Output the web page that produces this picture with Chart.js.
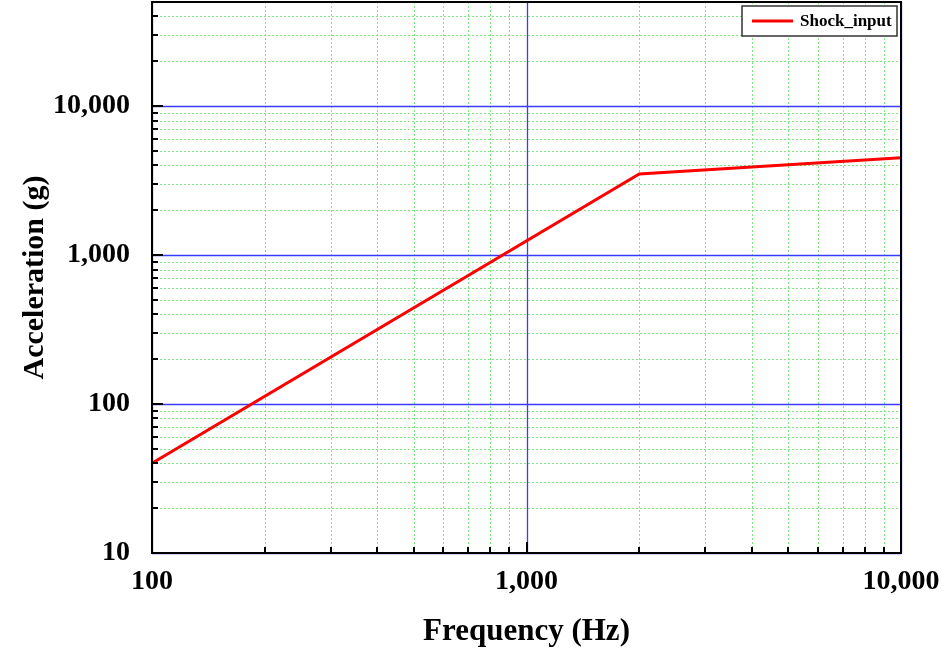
<!DOCTYPE html>
<html>
<head>
<meta charset="utf-8">
<script src="https://cdn.jsdelivr.net/npm/chart.js@4/dist/chart.umd.min.js"></script>
<style>
  html, body { margin: 0; padding: 0; background: #fff; }
  #wrap { width: 947px; height: 652px; }
</style>
</head>
<body>
<div id="wrap"><canvas id="shock-chart" width="947" height="652"></canvas></div>
<script>
// data
var freqHz = [100, 2000, 10000];
var accelG = [40, 3500, 4500];
var xTicks = [100, 1000, 10000];
var yTicks = [10, 100, 1000, 10000];
var seriesName = "Shock_input";

var serif = "'Liberation Serif', 'Times New Roman', serif";

function fmt(v) { return Number(v).toLocaleString('en-US'); }

// every 1..9 * 10^k between min and max
function logSteps(min, max) {
  var out = [];
  for (var p = Math.pow(10, Math.floor(Math.log10(min))); p <= max; p *= 10) {
    for (var m = 1; m < 10; m++) {
      var v = m * p;
      if (v >= min && v <= max) out.push({ v: v, major: m === 1 });
    }
  }
  return out;
}

/*grid, inward ticks, frame and legend*/
var framePlugin = {
  id: 'frame',
  beforeDatasetsDraw: function (chart) {
    var ctx = chart.ctx, a = chart.chartArea;
    var xs = chart.scales.x, ys = chart.scales.y;
    ctx.save();
    ctx.lineWidth = 1;
    // minor lines
    ctx.strokeStyle = '#7ee87e';
    ctx.setLineDash([2, 2]);
    logSteps(xs.min, xs.max).forEach(function (t) {
      if (t.major) return;
      var px = Math.round(xs.getPixelForValue(t.v)) + 0.5;
      ctx.beginPath(); ctx.moveTo(px, a.top); ctx.lineTo(px, a.bottom); ctx.stroke();
    });
    logSteps(ys.min, ys.max).forEach(function (t) {
      if (t.major) return;
      var py = Math.round(ys.getPixelForValue(t.v)) + 0.5;
      ctx.beginPath(); ctx.moveTo(a.left, py); ctx.lineTo(a.right, py); ctx.stroke();
    });
    // major lines
    ctx.setLineDash([]);
    ctx.strokeStyle = '#3b3bff';
    ctx.lineWidth = 1.3;
    logSteps(xs.min, xs.max).forEach(function (t) {
      if (!t.major) return;
      var px = Math.round(xs.getPixelForValue(t.v)) + 0.5;
      ctx.beginPath(); ctx.moveTo(px, a.top); ctx.lineTo(px, a.bottom); ctx.stroke();
    });
    logSteps(ys.min, ys.max).forEach(function (t) {
      if (!t.major) return;
      var py = Math.round(ys.getPixelForValue(t.v)) + 0.5;
      ctx.beginPath(); ctx.moveTo(a.left, py); ctx.lineTo(a.right, py); ctx.stroke();
    });
    ctx.restore();
  },
  afterDatasetsDraw: function (chart) {
    var ctx = chart.ctx, a = chart.chartArea;
    var xs = chart.scales.x, ys = chart.scales.y;
    ctx.save();
    ctx.strokeStyle = '#000';
    ctx.lineWidth = 2;
    // inward ticks
    logSteps(xs.min, xs.max).forEach(function (t) {
      var px = Math.round(xs.getPixelForValue(t.v));
      var len = t.major ? 11 : 6;
      ctx.beginPath(); ctx.moveTo(px, a.bottom); ctx.lineTo(px, a.bottom - len); ctx.stroke();
    });
    logSteps(ys.min, ys.max).forEach(function (t) {
      var py = Math.round(ys.getPixelForValue(t.v));
      var len = t.major ? 11 : 6;
      ctx.beginPath(); ctx.moveTo(a.left, py); ctx.lineTo(a.left + len, py); ctx.stroke();
    });
    ctx.strokeRect(a.left, a.top, a.right - a.left, a.bottom - a.top);

    // legend box
    var bx = 742, by = 6, bw = 155, bh = 30;
    ctx.fillStyle = '#fff';
    ctx.fillRect(bx, by, bw, bh);
    ctx.lineWidth = 1.5;
    ctx.strokeStyle = '#333';
    ctx.strokeRect(bx, by, bw, bh);
    ctx.strokeStyle = chart.data.datasets[0].borderColor;
    ctx.lineWidth = 3;
    ctx.beginPath(); ctx.moveTo(752, by + bh / 2); ctx.lineTo(793, by + bh / 2); ctx.stroke();
    ctx.fillStyle = '#000';
    ctx.font = 'bold 17px ' + serif;
    ctx.textBaseline = 'middle';
    ctx.textAlign = 'left';
    ctx.fillText(chart.data.datasets[0].label, 800, by + bh / 2 + 1);
    ctx.restore();
  }
};

var points = freqHz.map(function (f, i) { return { x: f, y: accelG[i] }; });

new Chart(document.getElementById("shock-chart"), {
  type: 'line',
  data: {
    datasets: [{
      label: seriesName,
      data: points,
      borderColor: "#ff0000",
      borderWidth: 3,
      pointRadius: 0,
      tension: 0,
      fill: false
    }]
  },
  options: {
    responsive: false,
    animation: false,
    layout: { padding: { top: 2, right: 46, left: 0, bottom: 0 } },
    plugins: {
      legend: { display: false },
      tooltip: { enabled: false }
    },
    scales: {
      x: {
        type: 'logarithmic',
        position: 'bottom',
        min: 100,
        max: 10000,
        grid: { display: false },
        border: { display: false },
        afterBuildTicks: function (scale) {
          scale.ticks = xTicks.map(function (v) { return { value: v }; });
        },
        afterFit: function (scale) {
          scale.height = 99;
          scale.paddingLeft = 0;
          scale.paddingRight = 0;
        },
        ticks: {
          autoSkip: false,
          maxRotation: 0,
          padding: 4,
          color: '#000',
          font: { family: serif, size: 28, weight: 'bold' },
          callback: function (v) { return fmt(v); }
        },
        title: {
          display: true,
          text: 'Frequency (Hz)',
          color: '#000',
          font: { family: serif, size: 31, weight: 'bold' },
          padding: { top: 0, bottom: 1 }
        }
      },
      y: {
        type: 'logarithmic',
        position: 'left',
        min: 10,
        max: 50000,
        grid: { display: false },
        border: { display: false },
        afterBuildTicks: function (scale) {
          scale.ticks = yTicks.map(function (v) { return { value: v }; });
        },
        afterFit: function (scale) {
          scale.width = 152;
          scale.paddingTop = 0;
          scale.paddingBottom = 0;
        },
        ticks: {
          autoSkip: false,
          padding: 14,
          color: '#000',
          font: { family: serif, size: 28, weight: 'bold' },
          callback: function (v) { return fmt(v); }
        },
        title: {
          display: true,
          text: 'Acceleration (g)',
          color: '#000',
          font: { family: serif, size: 30, weight: 'bold' },
          padding: { top: 17, bottom: 0 }
        }
      }
    }
  },
  plugins: [framePlugin]
});
</script>
</body>
</html>
